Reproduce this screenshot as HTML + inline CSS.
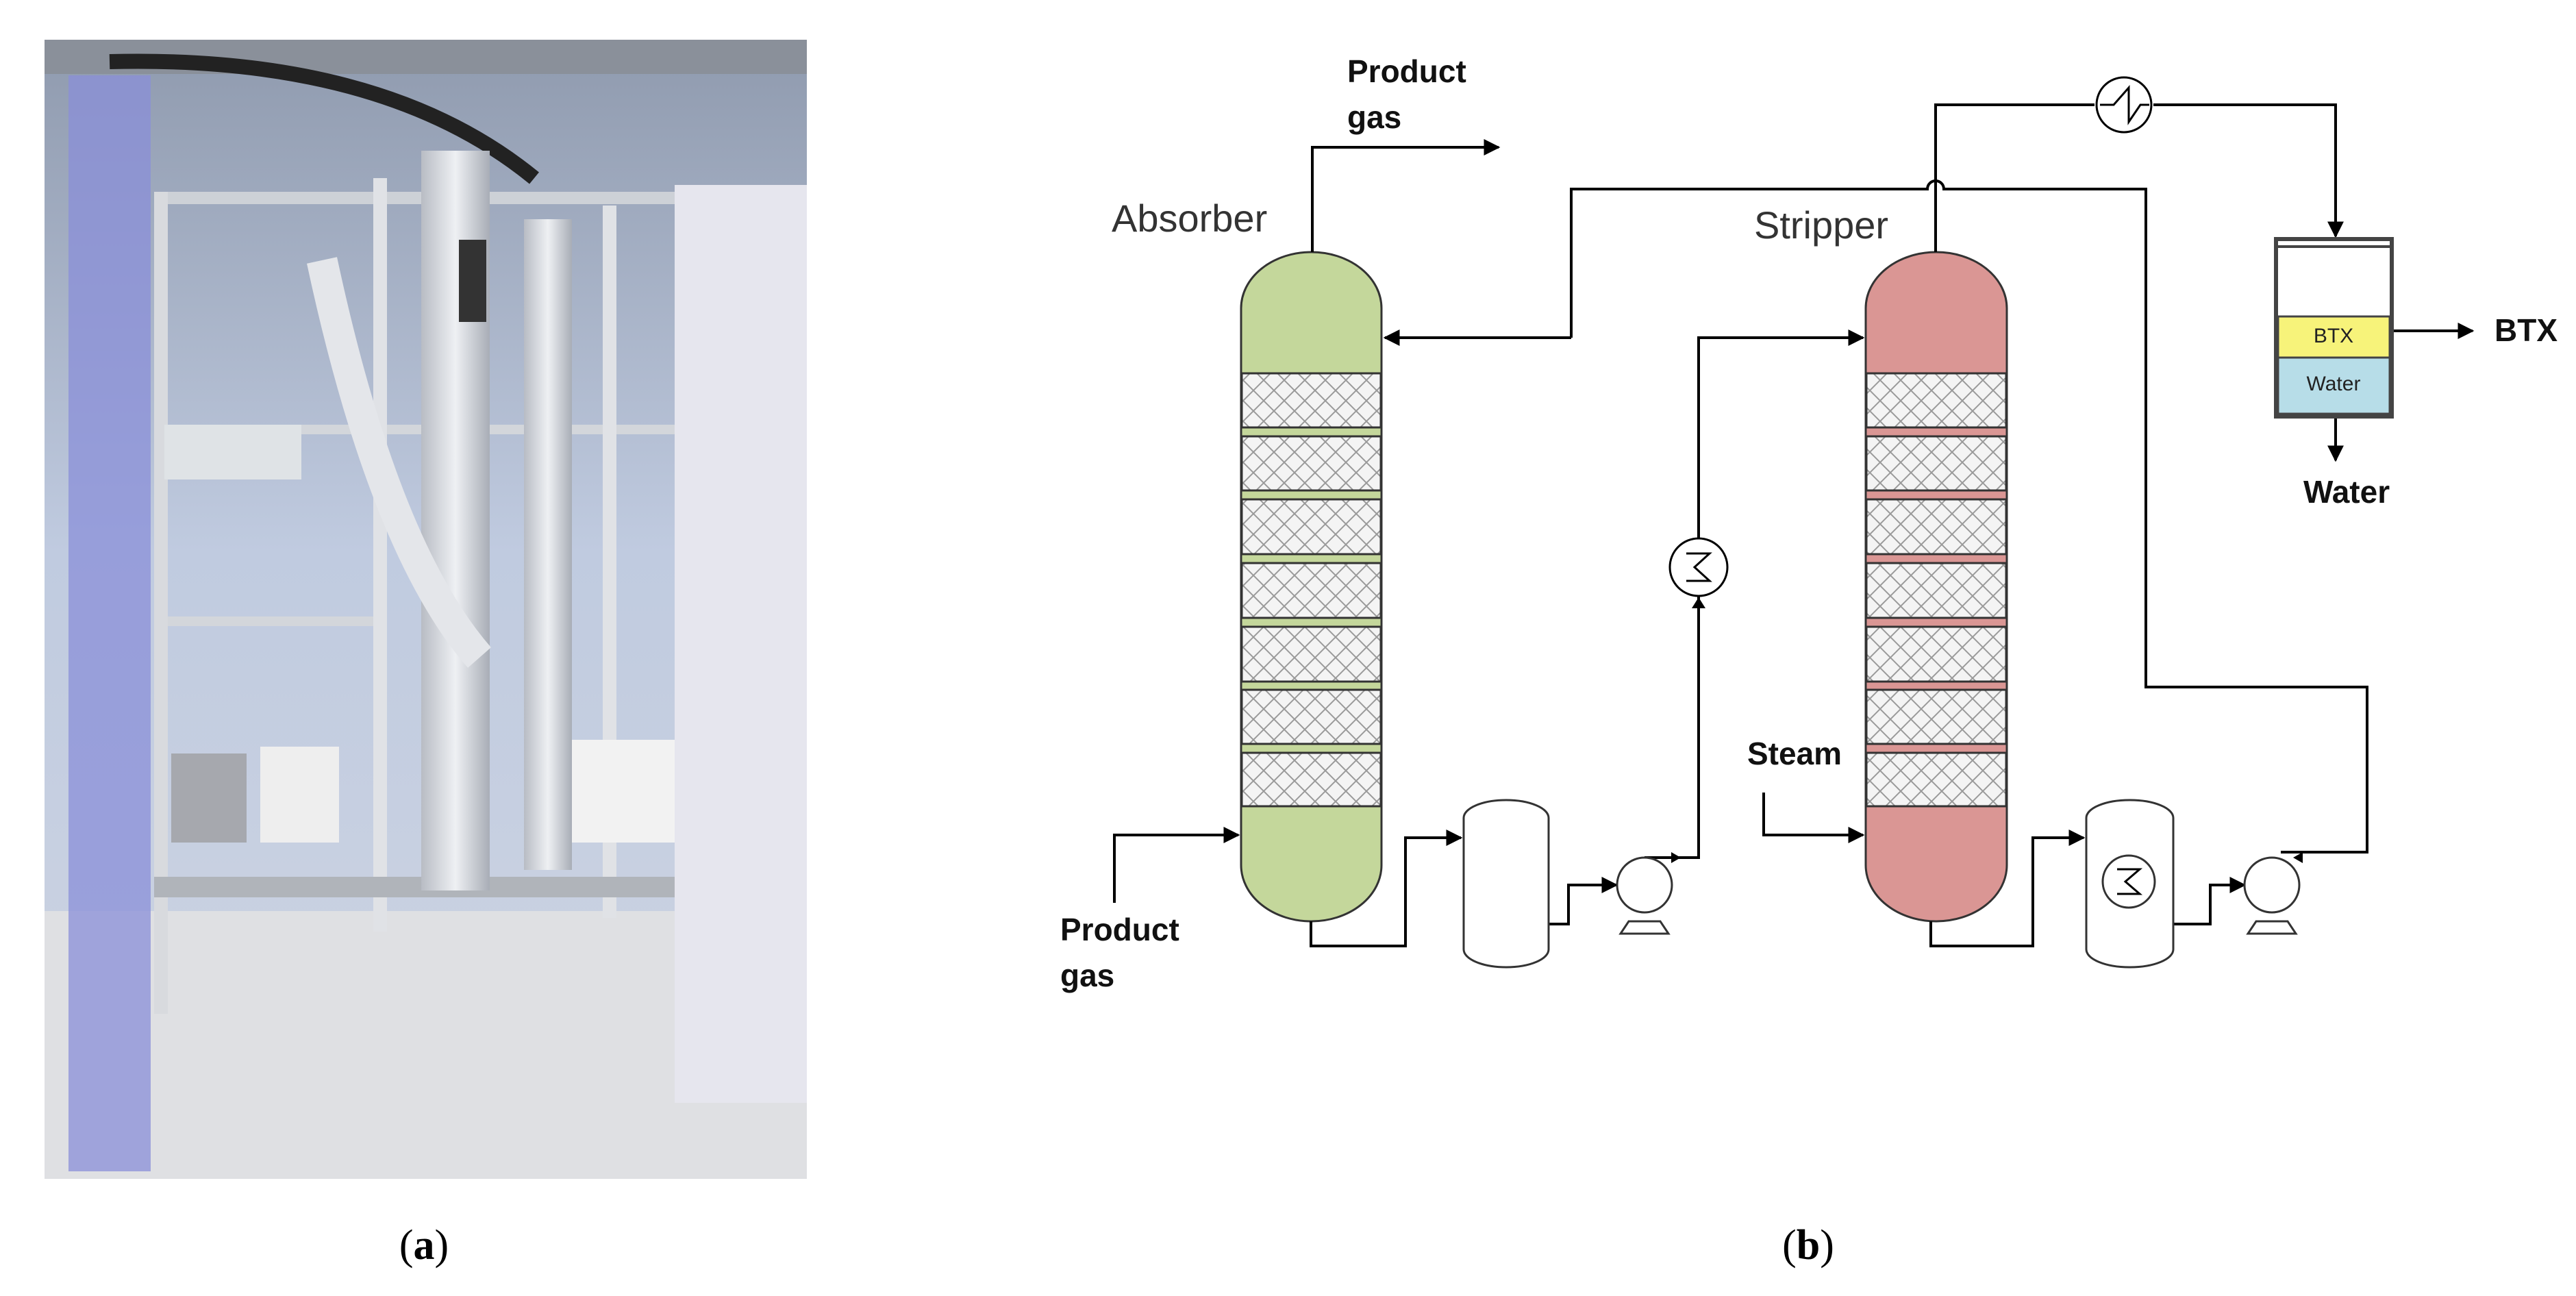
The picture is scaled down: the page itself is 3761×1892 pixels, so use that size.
<!DOCTYPE html>
<html><head><meta charset="utf-8"><style>
html,body{margin:0;padding:0;background:#fff;}
svg{display:block;}
</style></head><body>
<svg width="3761" height="1892" viewBox="0 0 3761 1892" xmlns="http://www.w3.org/2000/svg" font-family="Liberation Sans, sans-serif">
<defs>
<pattern id="hatch" width="30" height="30" patternUnits="userSpaceOnUse">
<rect width="30" height="30" fill="#f4f4f4"/>
<path d="M0 0L30 30M30 0L0 30" stroke="#9a9a9a" stroke-width="2"/>
</pattern>
<linearGradient id="bg" x1="0" y1="0" x2="0" y2="1">
<stop offset="0" stop-color="#8f9aae"/><stop offset="0.45" stop-color="#c0cbe0"/><stop offset="1" stop-color="#cfd5e2"/>
</linearGradient>
<linearGradient id="col" x1="0" y1="0" x2="1" y2="0">
<stop offset="0" stop-color="#b8bcc4"/><stop offset="0.5" stop-color="#eef0f3"/><stop offset="1" stop-color="#a8adb6"/>
</linearGradient>
<marker id="ar" viewBox="0 0 10 10" refX="9" refY="5" markerWidth="6" markerHeight="6" orient="auto"><path d="M0 0L10 5L0 10z" fill="#000"/></marker>
</defs>

<!-- Photo (a) -->
<rect x="65" y="58" width="1113" height="1663" fill="url(#bg)"/>
<rect x="65" y="1330" width="1113" height="391" fill="#dfe0e3"/>
<rect x="65" y="58" width="1113" height="50" fill="#8a909a"/>
<path d="M160 90Q560 80 780 260" stroke="#222" stroke-width="22" fill="none"/>
<rect x="225" y="280" width="790" height="18" fill="#cdd1d7"/>
<rect x="225" y="620" width="790" height="14" fill="#d3d6db"/>
<rect x="225" y="900" width="320" height="14" fill="#d3d6db"/>
<rect x="225" y="280" width="20" height="1200" fill="#d8dade"/>
<rect x="545" y="260" width="20" height="1100" fill="#e0e2e6"/>
<rect x="880" y="300" width="20" height="1040" fill="#e0e2e6"/>
<rect x="225" y="1280" width="790" height="30" fill="#b0b4ba"/>
<rect x="615" y="220" width="100" height="1080" fill="url(#col)"/>
<rect x="765" y="320" width="70" height="950" fill="url(#col)"/>
<path d="M470 380Q560 800 700 960" stroke="#e4e6ea" stroke-width="45" fill="none"/>
<rect x="670" y="350" width="40" height="120" fill="#333"/>
<rect x="250" y="1100" width="110" height="130" fill="#a6a8ae"/>
<rect x="380" y="1090" width="115" height="140" fill="#eeeeee"/>
<rect x="835" y="1080" width="165" height="150" fill="#f2f2f2"/>
<rect x="240" y="620" width="200" height="80" fill="#dfe3e6"/>
<rect x="100" y="110" width="120" height="1600" fill="#8a8fd8" opacity="0.75"/>
<rect x="985" y="270" width="193" height="1340" fill="#e6e6ee"/>

<text x="619" y="1838" font-family="Liberation Serif, serif" font-size="62" text-anchor="middle">(<tspan font-weight="bold">a</tspan>)</text>
<text x="2640" y="1838" font-family="Liberation Serif, serif" font-size="62" text-anchor="middle">(<tspan font-weight="bold">b</tspan>)</text>

<!-- Columns -->
<g stroke="#333" stroke-width="3">
<rect x="1812" y="368" width="205" height="977" rx="103" ry="82" fill="#c4d79b"/>
<rect x="2724" y="368" width="206" height="977" rx="103" ry="82" fill="#da9694"/>
</g>
<g stroke="#333" stroke-width="3" fill="url(#hatch)">
<rect x="1813" y="545" width="203" height="79"/><rect x="1813" y="637" width="203" height="79"/>
<rect x="1813" y="729" width="203" height="80"/><rect x="1813" y="822" width="203" height="80"/>
<rect x="1813" y="915" width="203" height="80"/><rect x="1813" y="1007" width="203" height="79"/>
<rect x="1813" y="1099" width="203" height="78"/>
<rect x="2725" y="545" width="204" height="79"/><rect x="2725" y="637" width="204" height="79"/>
<rect x="2725" y="729" width="204" height="80"/><rect x="2725" y="822" width="204" height="80"/>
<rect x="2725" y="915" width="204" height="80"/><rect x="2725" y="1007" width="204" height="79"/>
<rect x="2725" y="1099" width="204" height="78"/>
</g>

<!-- Lines -->
<g stroke="#000" stroke-width="4" fill="none">
<path d="M1916 368V215H2188" marker-end="url(#ar)"/>
<path d="M1627 1318V1219H1808" marker-end="url(#ar)"/>
<path d="M1914 1345V1381H2052V1223H2133" marker-end="url(#ar)"/>
<path d="M2294 493V276H2814A12 12 0 0 1 2838 276H3133V1003H3456V1244H3330" />
<path d="M2294 493H2022" marker-end="url(#ar)"/>
<path d="M2826 368V153H3058"/>
<path d="M3144 153H3410V345" marker-end="url(#ar)"/>
<path d="M2261 1349H2290V1292H2360" marker-end="url(#ar)"/>
<path d="M2401 1252H2480V493H2720" marker-end="url(#ar)"/>
<path d="M2575 1157V1219H2720" marker-end="url(#ar)"/>
<path d="M2819 1345V1381H2968V1223H3042" marker-end="url(#ar)"/>
<path d="M3173 1349H3227V1292H3277" marker-end="url(#ar)"/>
<path d="M3492 483H3610" marker-end="url(#ar)"/>
<path d="M3410 608V672" marker-end="url(#ar)"/>
</g>
<!-- small arrows -->
<path d="M2480 872l-10 16h20z" fill="#000"/>
<path d="M2440 1244l14 8l-14 8z" fill="#000"/>
<path d="M3362 1244l-14 8l14 8z" fill="#000"/>

<!-- Heat exchangers -->
<g stroke="#000" stroke-width="3" fill="#fff">
<circle cx="3101" cy="153" r="40"/>
<circle cx="2480" cy="828" r="42"/>
</g>
<path d="M3066 153H3086L3108 128V178L3125 153H3138" stroke="#000" stroke-width="3" fill="none"/>
<path d="M2462 808H2496L2474 828L2496 848H2462" stroke="#000" stroke-width="3" fill="none"/>

<!-- Drums -->
<g stroke="#333" stroke-width="3" fill="#fff">
<rect x="2137" y="1168" width="124" height="244" rx="62" ry="26"/>
<rect x="3046" y="1168" width="127" height="244" rx="63" ry="26"/>
<circle cx="3108" cy="1287" r="38"/>
</g>
<path d="M3091 1269H3124L3103 1287L3124 1305H3091" stroke="#000" stroke-width="3" fill="none"/>

<!-- Pumps -->
<g stroke="#333" stroke-width="3" fill="#fff">
<path d="M2378 1345l-12 18h70l-12-18z"/>
<circle cx="2401" cy="1292" r="40"/>
<path d="M3294 1345l-12 18h70l-12-18z"/>
<circle cx="3317" cy="1292" r="40"/>
</g>

<!-- Decanter -->
<rect x="3323" y="349" width="169" height="259" fill="#fff" stroke="#444" stroke-width="6"/>
<rect x="3326" y="462" width="163" height="60" fill="#f7f37a" stroke="#444" stroke-width="3"/>
<rect x="3326" y="522" width="163" height="82" fill="#b7dde8" stroke="#444" stroke-width="3"/>
<line x1="3323" y1="360" x2="3492" y2="360" stroke="#444" stroke-width="4"/>
<text x="3407" y="500" font-size="30" text-anchor="middle" fill="#222">BTX</text>
<text x="3407" y="570" font-size="30" text-anchor="middle" fill="#222">Water</text>

<!-- Labels -->
<g font-weight="bold" font-size="46" fill="#111">
<text x="1967" y="120">Product</text>
<text x="1967" y="187">gas</text>
<text x="1548" y="1373">Product</text>
<text x="1548" y="1440">gas</text>
<text x="2551" y="1116">Steam</text>
<text x="3642" y="498">BTX</text>
<text x="3363" y="734">Water</text>
</g>
<text x="1623" y="338" font-size="56" fill="#333">Absorber</text>
<text x="2561" y="348" font-size="56" fill="#333">Stripper</text>
</svg>
</body></html>
